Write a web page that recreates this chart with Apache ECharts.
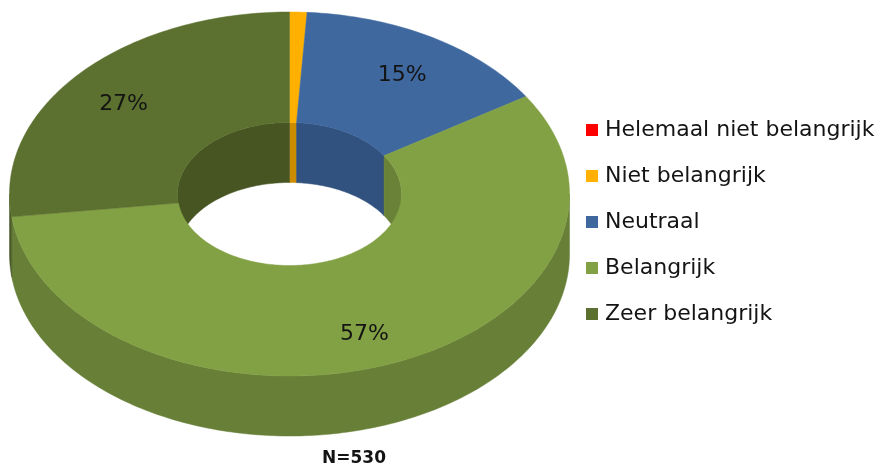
<!DOCTYPE html>
<html>
<head>
<meta charset="utf-8">
<style>
  html, body { margin: 0; padding: 0; background: #fff; }
  #main { width: 881px; height: 466px; }
</style>
</head>
<body>
<div id="main"></div>
<script src="https://cdn.jsdelivr.net/npm/echarts@6/dist/echarts.min.js"></script>
<script>
var categories = ['Helemaal niet belangrijk', 'Niet belangrijk', 'Neutraal', 'Belangrijk', 'Zeer belangrijk'];
var shares = [0, 1, 15, 57, 27];
var topColors = ['#ff0000', '#ffb000', '#3f699e', '#82a044', '#5c702f'];
var innerWallColors = ['#cc0000', '#cc8c00', '#31517f', '#6a8238', '#465522'];
var outerWallColors = ['#cc0000', '#cc8c00', '#31517f', '#677f36', '#4a5a26'];
var sampleSize = 'N=530';

// ellipse of the tilted doughnut
var cx = 289.5, cy = 194, rx = 280, ry = 182;
var holeRx = 112, holeRy = 71.5, depth = 60;
var total = shares.reduce(function (a, b) { return a + b; }, 0);

function arc(a, b, radX, radY, dy) {
  var pts = [];
  var n = Math.max(1, Math.ceil(Math.abs(b - a)));
  for (var i = 0; i <= n; i++) {
    var t = (a + (b - a) * i / n) * Math.PI / 180;
    pts.push([cx + radX * Math.sin(t), cy + dy - radY * Math.cos(t)]);
  }
  return pts;
}

function poly(pts, color, z2) {
  return {
    type: 'polygon',
    z2: z2,
    shape: { points: pts },
    style: { fill: color, stroke: color, lineWidth: 0.5 }
  };
}

function wall(a, b, radX, radY, color) {
  return poly(arc(a, b, radX, radY, 0).concat(arc(b, a, radX, radY, depth)), color, 1);
}

function renderSlice(params, api) {
  var idx = params.seriesIndex;
  var start = api.value(0), end = api.value(1), share = api.value(2);
  if (share <= 0) return null;
  var children = [];

  // hole wall is only seen on the back side (-90..90 deg)
  var backA = Math.max(start, 0), backB = Math.min(end, 90);
  if (backB > backA) children.push(wall(backA, backB, holeRx, holeRy, innerWallColors[idx]));
  backA = Math.max(start, 270); backB = Math.min(end, 360);
  if (backB > backA) children.push(wall(backA, backB, holeRx, holeRy, innerWallColors[idx]));

  // outer wall is seen on the front side (90..270 deg)
  var frontA = Math.max(start, 90), frontB = Math.min(end, 270);
  if (frontB > frontA) children.push(wall(frontA, frontB, rx, ry, outerWallColors[idx]));

  children.push(poly(arc(start, end, rx, ry, 0).concat(arc(end, start, holeRx, holeRy, 0)), topColors[idx], 2));

  if (share >= 5) {
    var mid = (start + end) / 2 * Math.PI / 180;
    children.push({
      type: 'text',
      z2: 3,
      style: {
        x: cx + rx * 0.79 * Math.sin(mid),
        y: cy + 5 - ry * 0.79 * Math.cos(mid),
        text: share + '%',
        fill: '#141414',
        font: '22px "DejaVu Sans"',
        align: 'center',
        verticalAlign: 'middle'
      }
    });
  }
  return { type: 'group', children: children };
}

var seriesList = [];
var running = 0;
categories.forEach(function (name, i) {
  var start = running / total * 360;
  running += shares[i];
  seriesList.push({
    name: name,
    type: 'custom',
    coordinateSystem: 'none',
    silent: true,
    animation: false,
    itemStyle: { color: topColors[i] },
    renderItem: renderSlice,
    encode: { x: 0 },
    data: [[start, running / total * 360, shares[i]]]
  });
});

var myChart = echarts.init(document.getElementById('main'), null, { renderer: 'canvas' });
myChart.setOption({
  animation: false,
  backgroundColor: '#fff',
  title: {
    text: sampleSize,
    left: 349,
    top: 445,
    textAlign: 'center',
    textStyle: { fontFamily: 'DejaVu Sans', fontSize: 17, fontWeight: 'bold', color: '#141414' }
  },
  legend: {
    orient: 'vertical',
    left: 586,
    top: 119,
    padding: 0,
    icon: 'rect',
    itemWidth: 12,
    itemHeight: 12,
    itemGap: 24,
    selectedMode: false,
    data: categories,
    textStyle: { fontFamily: 'DejaVu Sans', fontSize: 22, color: '#141414', padding: [0, 0, 0, 2], lineHeight: 22 }
  },
  series: seriesList
});
</script>
</body>
</html>
